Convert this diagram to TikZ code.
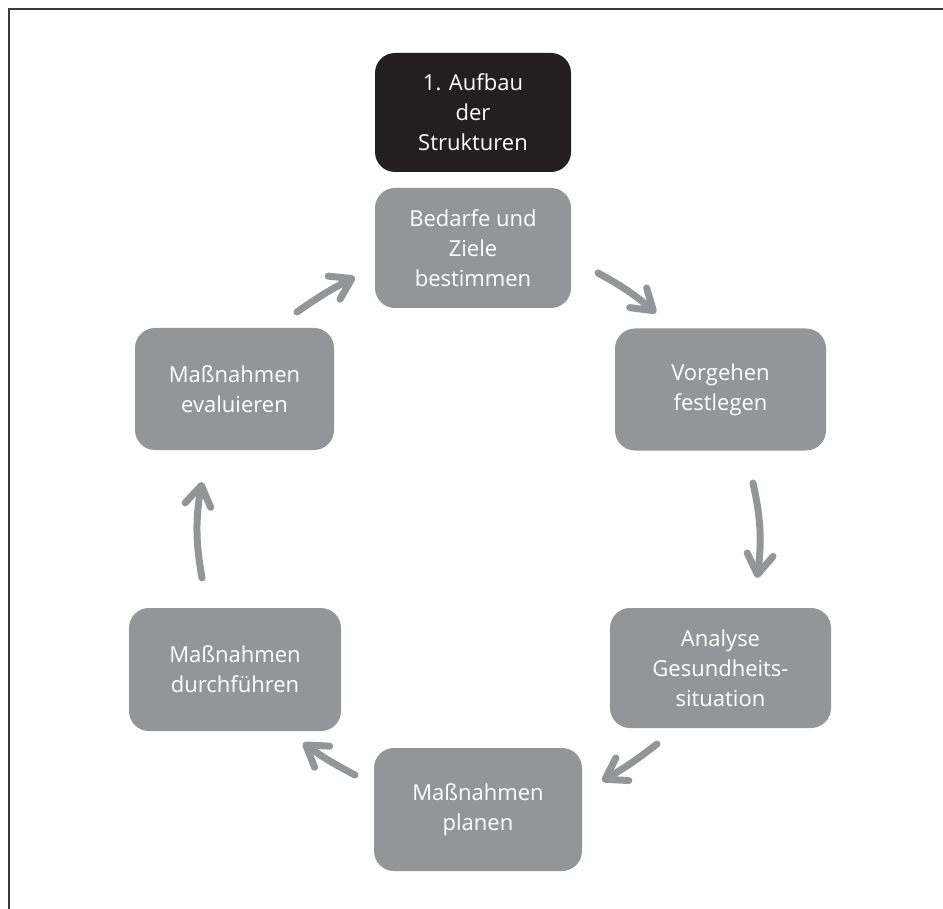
\documentclass[tikz,border=0pt]{standalone}
\usepackage{fontspec}
\setmainfont{Open Sans}
\usetikzlibrary{arrows.meta}
\definecolor{boxgray}{HTML}{939598}
\definecolor{boxblack}{HTML}{231F20}
\definecolor{framegray}{HTML}{3C3C3C}
\begin{document}
\begin{tikzpicture}[x=1pt,y=-1pt,
  stage/.style={rounded corners=20pt, fill=boxgray, text=white, align=center,
    inner sep=0pt, font=\fontsize{22}{30}\selectfont},
  first/.style={stage, fill=boxblack},
  cyc/.style={draw=boxgray, line width=7pt, line cap=round,
    -{Straight Barb[length=20pt,width=26pt,round,line width=7pt]}}]
\useasboundingbox (0,0) rectangle (943,909);
\draw[framegray, line width=2pt] (8.5,909) -- (8.5,9) -- (943,9);

\node[first, minimum width=196pt, minimum height=119pt] (top) at (473,112.5) {1. Aufbau\\der\\Strukturen};
\node[stage, minimum width=196pt, minimum height=120pt] (bed) at (473,248) {Bedarfe und\\Ziele\\bestimmen};
\node[stage, minimum width=211pt, minimum height=122pt] (vor) at (720.5,389.5) {Vorgehen\\festlegen};
\node[stage, minimum width=221pt, minimum height=120pt] (ana) at (720.5,668) {Analyse\\Gesundheits-\\situation};
\node[stage, minimum width=208pt, minimum height=123pt] (pla) at (478,809.5) {Maßnahmen\\planen};
\node[stage, minimum width=212pt, minimum height=123pt] (dur) at (235,669.5) {Maßnahmen\\durchführen};
\node[stage, minimum width=199pt, minimum height=122pt] (eva) at (234.5,389) {Maßnahmen\\evaluieren};

\coordinate (a1s) at (598,273); \coordinate (a1e) at (656,313);
\coordinate (a2s) at (753,483); \coordinate (a2e) at (757,578);
\coordinate (a3s) at (657,744); \coordinate (a3e) at (602,781);
\coordinate (a4s) at (355,775); \coordinate (a4e) at (303,743);
\coordinate (a5s) at (202,578); \coordinate (a5e) at (202,482);
\coordinate (a6s) at (297,312); \coordinate (a6e) at (355,277);

\draw[cyc] (a1s) to[bend left=6] (a1e);
\draw[cyc] (a2s) to[bend left=10] (a2e);
\draw[cyc] (a3s) to[bend left=4] (a3e);
\draw[cyc] (a4s) to[bend left=4] (a4e);
\draw[cyc] (a5s) to[bend left=10] (a5e);
\draw[cyc] (a6s) to[bend left=4] (a6e);
\end{tikzpicture}
\end{document}
